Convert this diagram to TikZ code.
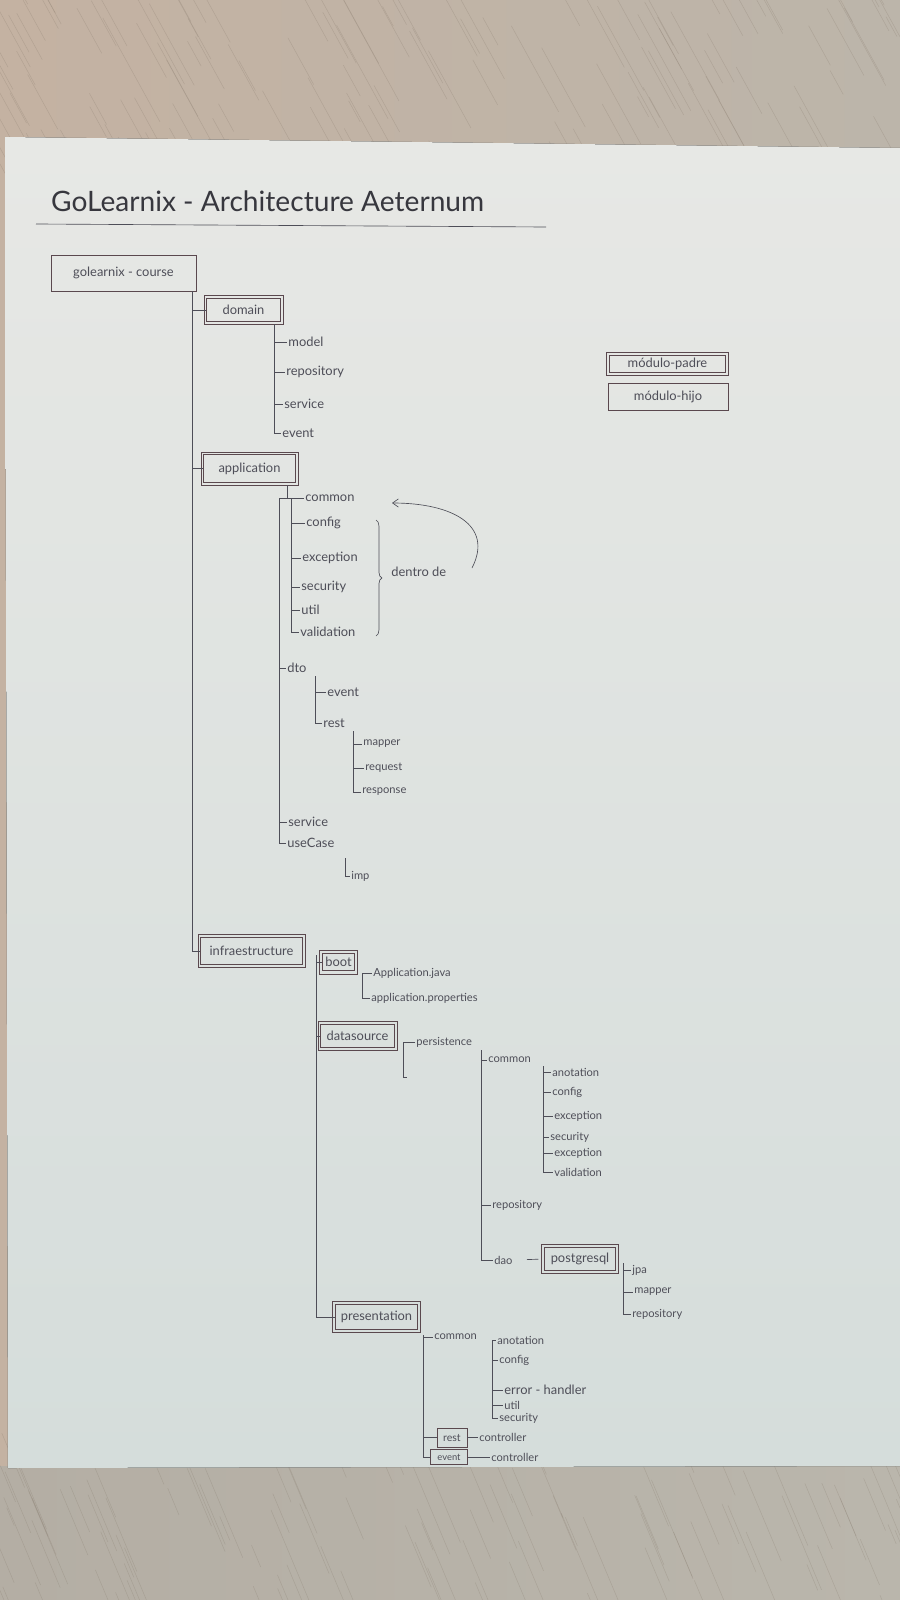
\documentclass[tikz,border=0pt]{standalone}
\usepackage{fontspec}
\setmainfont{Lato}
\usetikzlibrary{arrows.meta,decorations.pathreplacing,calc}
\definecolor{woodA}{RGB}{196,178,162}
\definecolor{woodB}{RGB}{188,181,170}
\definecolor{woodC}{RGB}{180,174,164}
\definecolor{woodD}{RGB}{186,182,172}
\definecolor{grainc}{RGB}{125,112,98}
\definecolor{paperA}{RGB}{231,232,229}
\definecolor{paperB}{RGB}{213,221,219}
\definecolor{ink}{RGB}{78,78,88}
\definecolor{titleink}{RGB}{55,55,62}
\definecolor{boxink}{RGB}{90,72,78}
\begin{document}
\begin{tikzpicture}[x=0.03cm,y=-0.03cm,
  ln/.style={draw=ink,line width=0.55pt},
  lbl/.style={anchor=west,inner sep=1pt,text=ink,font=\fontsize{11}{13}\selectfont},
  slbl/.style={lbl,font=\fontsize{9.5}{11}\selectfont},
  cbox/.style={draw=boxink,line width=0.65pt,inner sep=1pt,text=ink,font=\fontsize{11}{13}\selectfont},
  pbox/.style={cbox},
  frame/.style={draw=boxink,line width=0.55pt},
  grain/.style={draw=grainc,line width=0.4pt,opacity=0.25}]
\useasboundingbox (0,0) rectangle (900,1600);
\begin{scope}
\clip (0,0) rectangle (900,1600);
% wood background
\fill[left color=woodA,right color=woodB] (0,0) rectangle (900,1600);
\fill[left color=woodC,right color=woodD] (0,1466) rectangle (900,1600);
\pgfmathsetseed{7}
\foreach \i in {1,...,180}{
  \pgfmathsetmacro{\gx}{rnd*1100-150}
  \pgfmathsetmacro{\gy}{rnd*230-80}
  \pgfmathsetmacro{\gl}{15+rnd*90}
  \draw[grain] (\gx,\gy) -- ++(0.55*\gl,\gl);
}
\foreach \i in {1,...,140}{
  \pgfmathsetmacro{\gx}{rnd*1100-150}
  \pgfmathsetmacro{\gy}{rnd*200+1420}
  \pgfmathsetmacro{\gl}{15+rnd*90}
  \draw[grain] (\gx,\gy) -- ++(0.42*\gl,\gl);
}
% paper
\fill[top color=paperA,bottom color=paperB] (5,137) -- (900,148) -- (900,1466) -- (8,1468) -- cycle;
\end{scope}

% title
\node[anchor=west,inner sep=0pt,text=titleink,font=\fontsize{24}{28}\selectfont] (title) at (51,201) {GoLearnix - Architecture Aeternum};
\coordinate (ulA) at (36,224);
\coordinate (ulB) at (546,227);
\draw[ln] (ulA) -- (ulB);

% boxes
\node[cbox,minimum width=4.35cm,minimum height=1.08cm] (course) at (123.5,273) {golearnix - course};
\node[pbox,minimum width=2.2cm,minimum height=0.68cm] (domain) at (243.5,310) {domain};
\node[pbox,minimum width=2.74cm,minimum height=0.82cm] (application) at (249.5,468.5) {application};
\node[pbox,minimum width=3.04cm,minimum height=0.8cm] (infra) at (251.5,951) {infraestructure};
\node[pbox,minimum width=0.95cm,minimum height=0.53cm] (boot) at (338.5,962) {boot};
\node[pbox,minimum width=2.2cm,minimum height=0.68cm] (datasource) at (357.5,1036) {datasource};
\node[pbox,minimum width=2.12cm,minimum height=0.68cm] (postgresql) at (580,1259) {postgresql};
\node[pbox,minimum width=2.45cm,minimum height=0.74cm] (presentation) at (376.5,1317) {presentation};
\node[cbox,minimum width=0.9cm,minimum height=0.57cm,font=\fontsize{9}{10}\selectfont] (restc) at (452,1437.5) {rest};
\node[cbox,minimum width=1.11cm,minimum height=0.45cm,font=\fontsize{8}{9}\selectfont] (eventc) at (449,1457) {event};

% legend
\node[pbox,minimum width=3.47cm,minimum height=0.52cm] (padre) at (667.5,364) {módulo-padre};
\node[cbox,minimum width=3.6cm,minimum height=0.81cm] (hijo) at (668,396.5) {módulo-hijo};

% outer frames of the parent boxes
\foreach \n in {domain,application,infra,boot,datasource,postgresql,presentation,padre}{
  \draw[frame] ($(\n.south west)+(-2.6,2.6)$) rectangle ($(\n.north east)+(2.6,-2.6)$);
}

% main trunk
\coordinate (mainT) at (192,291);
\draw[ln] (mainT) |- (infra.west);
\draw[ln] (domain.west -| mainT) -- (domain.west);
\draw[ln] (application.west -| mainT) -- (application.west);

% domain children
\node[lbl] (dmodel) at (287,342) {model};
\node[lbl] (drepo) at (285,372) {repository};
\node[lbl] (dservice) at (283,404) {service};
\node[lbl] (devent) at (281,433) {event};
\coordinate (domT) at (274,324);
\draw[ln] (domT) |- (devent.west);
\foreach \n in {dmodel,drepo,dservice}{\draw[ln] (\n.west -| domT) -- (\n.west);}

% application children
\node[lbl] (acommon) at (304,498) {common};
\coordinate (appA) at (287,485);
\draw[ln] (appA) |- (acommon.west);
\node[lbl] (aconfig) at (305,523) {config};
\node[lbl] (aexception) at (301,558) {exception};
\node[lbl] (asecurity) at (300,587) {security};
\node[lbl] (autil) at (300,610) {util};
\node[lbl] (avalidation) at (299,632) {validation};
\coordinate (comT) at (291,498);
\draw[ln] (comT) |- (avalidation.west);
\foreach \n in {aconfig,aexception,asecurity,autil}{\draw[ln] (\n.west -| comT) -- (\n.west);}

\node[lbl] (adto) at (286,668) {dto};
\node[lbl] (aservice) at (287,822) {service};
\node[lbl] (ausecase) at (286,843) {useCase};
\coordinate (appT) at (279,498);
\draw[ln] (appT) -- (acommon.west);
\draw[ln] (appT) |- (ausecase.west);
\foreach \n in {adto,aservice}{\draw[ln] (\n.west -| appT) -- (\n.west);}

% brace + dentro de + arrow
\coordinate (brA) at (376,520);
\coordinate (brB) at (376,636);
\draw[ln,decorate,decoration={brace,amplitude=5pt}] (brA) -- (brB);
\node[lbl] (dentro) at (390,572) {dentro de};
\coordinate (arS) at (472,568);
\coordinate (arE) at (392,503);
\draw[ln,-{Straight Barb[length=5pt,width=7pt]}] (arS) .. controls (494,525) and (452,503) .. (arE);

% dto children
\node[lbl] (devt) at (326,692) {event};
\node[lbl] (drest) at (322,723) {rest};
\coordinate (dtoT) at (315,676);
\draw[ln] (dtoT) |- (drest.west);
\draw[ln] (devt.west -| dtoT) -- (devt.west);
\node[slbl] (rmapper) at (362,744) {mapper};
\node[slbl] (rrequest) at (364,768) {request};
\node[slbl] (rresponse) at (361,792) {response};
\coordinate (restT) at (353,731);
\draw[ln] (restT) |- (rresponse.west);
\foreach \n in {rmapper,rrequest}{\draw[ln] (\n.west -| restT) -- (\n.west);}

% useCase child
\node[slbl] (aimp) at (350,876) {imp};
\coordinate (impT) at (345,858);
\draw[ln] (impT) |- (aimp.west);

% infraestructure trunk
\coordinate (infT) at (316,955);
\draw[ln] (infT) |- (presentation.west);
\foreach \n in {boot,datasource}{\draw[ln] (\n.west -| infT) -- (\n.west);}

% boot children
\node[slbl] (bjava) at (372,973) {Application.java};
\node[slbl] (bprops) at (370,998) {application.properties};
\coordinate (bootT) at (362,973);
\draw[ln] (bootT) -- (bjava.west);
\draw[ln] (bootT) |- (bprops.west);

% datasource -> persistence
\node[slbl] (persist) at (415,1042) {persistence};
\coordinate (perB) at (403,1077);
\draw[ln] (persist.west) -| (perB) -- ++(4,0);

\node[slbl] (pcommon) at (487,1060) {common};
\node[slbl] (prepo) at (491,1205) {repository};
\node[slbl] (pdao) at (493,1260) {dao};
\coordinate (psT) at (481,1050);
\draw[ln] (psT) |- (pdao.west);
\foreach \n in {pcommon,prepo}{\draw[ln] (\n.west -| psT) -- (\n.west);}
\draw[ln,shorten <=11pt,shorten >=5pt] (pdao.east) -- (postgresql.west);

% persistence common children
\node[slbl] (canot) at (551,1072) {anotation};
\node[slbl] (cconfig) at (551,1092) {config};
\node[slbl] (cexc) at (553,1116) {exception};
\node[slbl] (csec) at (549,1137) {security};
\node[slbl] (cexc2) at (553,1153) {exception};
\node[slbl] (cvalid) at (553,1172) {validation};
\coordinate (pcT) at (543,1066);
\draw[ln] (pcT) |- (cvalid.west);
\foreach \n in {canot,cconfig,cexc,csec,cexc2}{\draw[ln] (\n.west -| pcT) -- (\n.west);}

% postgresql children
\node[slbl] (pgjpa) at (631,1270) {jpa};
\node[slbl] (pgmap) at (633,1292) {mapper};
\node[slbl] (pgrepo) at (631,1314) {repository};
\coordinate (pgT) at (623,1263);
\draw[ln] (pgT) |- (pgrepo.west);
\foreach \n in {pgjpa,pgmap}{\draw[ln] (\n.west -| pgT) -- (\n.west);}

% presentation children
\node[slbl] (prcommon) at (433,1337) {common};
\coordinate (prT) at (423,1335);
\draw[ln] (prT) |- (eventc.west);
\foreach \n in {prcommon,restc}{\draw[ln] (\n.west -| prT) -- (\n.west);}
\node[slbl] (pranot) at (496,1340) {anotation};
\node[slbl] (prconf) at (498,1360) {config};
\node[lbl] (prerr) at (503,1390) {error - handler};
\node[slbl] (prutil) at (503,1405) {util};
\node[slbl] (prsec) at (498,1418) {security};
\coordinate (prcT) at (492,1340);
\draw[ln] (prcT) |- (prsec.west);
\foreach \n in {pranot,prconf,prerr,prutil}{\draw[ln] (\n.west -| prcT) -- (\n.west);}

\node[slbl] (rctrl) at (478,1437.5) {controller};
\draw[ln] (restc.east) -- (rctrl.west);
\node[slbl] (ectrl) at (490,1457) {controller};
\draw[ln] (eventc.east) -- (ectrl.west);
\end{tikzpicture}
\end{document}
